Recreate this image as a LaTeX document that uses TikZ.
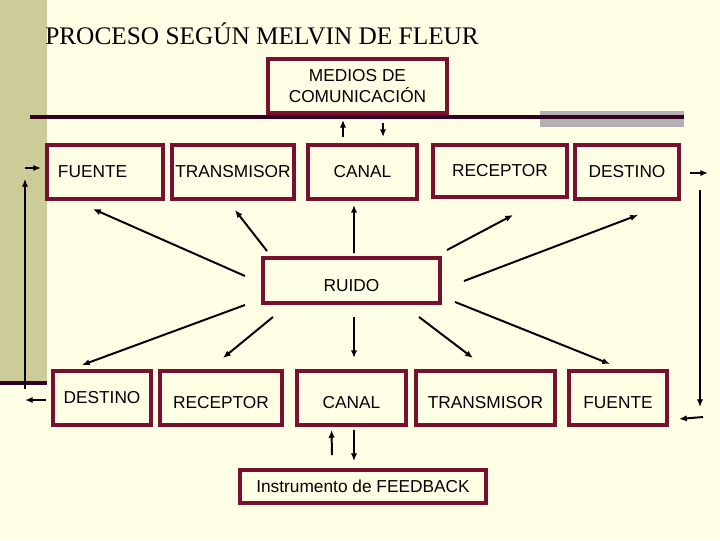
\documentclass[tikz,border=0pt]{standalone}
\usepackage{fontspec}
\setmainfont{Liberation Sans}
\newfontfamily\titulofont{Liberation Serif}
\usepackage{xcolor}
\usepackage{tikz}
\usetikzlibrary{calc, positioning, arrows.meta}

\definecolor{fondo}{RGB}{255,255,230}
\definecolor{oliva}{RGB}{204,204,153}
\definecolor{granate}{RGB}{122,16,48}
\definecolor{morado}{RGB}{51,0,34}
\definecolor{gris}{RGB}{178,178,178}

\begin{document}
\begin{tikzpicture}[>={Latex[length=5.5pt, width=4.5pt]}, x=0.025cm, y=-0.025cm,
    caja/.style={draw=granate, line width=2.8pt, fill=fondo, inner sep=0pt,
        font=\fontsize{12.3}{15}\selectfont, align=center},
    abajo/.style={text height=15.6pt, text depth=0pt},
    flecha/.style={->, line width=1.4pt}]
    % Nền
    \useasboundingbox (0,0) rectangle (720,540);
    \fill[fondo] (0,0) rectangle (720,540);
    \fill[oliva] (0,0) rectangle (47,383);
    \draw[morado, line width=2.4pt] (0,383) -- (47,383);
    \fill[gris] (540,111) rectangle (684,127);
    \draw[morado, line width=2.2pt] (30,117) -- (684,117);

    % Tiêu đề
    \node[anchor=base west, inner sep=0pt, font=\titulofont\fontsize{18}{20}\selectfont] (titulo) at (45,44)
        {PROCESO SEGÚN MELVIN DE FLEUR};

    % Hàng trên
    \node[caja, minimum width=4.475cm, minimum height=1.35cm] (medios) at (357.5,86) {MEDIOS DE\\COMUNICACIÓN};
    \node[caja, minimum width=2.9cm, minimum height=1.35cm, text width=2.35cm, inner xsep=7.8pt, align=left] (fuenteA) at (105,172) {FUENTE};
    \node[caja, minimum width=3.05cm, minimum height=1.35cm] (transA) at (233,172) {TRANSMISOR};
    \node[caja, minimum width=2.725cm, minimum height=1.35cm] (canalA) at (362.5,172) {CANAL};
    \node[caja, minimum width=3.35cm, minimum height=1.3cm] (receptorA) at (500,171) {RECEPTOR};
    \node[caja, minimum width=2.6cm, minimum height=1.35cm] (destinoA) at (627,172) {DESTINO};

    % Ruido
    \node[caja, text height=15pt, text depth=0pt, minimum width=4.425cm, minimum height=1.125cm] (ruido) at (351.5,280.5) {RUIDO};

    % Hàng dưới
    \node[caja, minimum width=2.45cm, minimum height=1.35cm] (destinoB) at (102,398) {DESTINO};
    \node[caja, abajo, minimum width=3.05cm, minimum height=1.35cm] (receptorB) at (221,398) {RECEPTOR};
    \node[caja, abajo, minimum width=2.725cm, minimum height=1.35cm] (canalB) at (351.5,398) {CANAL};
    \node[caja, abajo, minimum width=3.475cm, minimum height=1.35cm] (transB) at (485.5,398) {TRANSMISOR};
    \node[caja, abajo, minimum width=2.45cm, minimum height=1.35cm] (fuenteB) at (618,398) {FUENTE};
    \node[caja, minimum width=6.15cm, minimum height=0.825cm] (feedback) at (363,486.5) {Instrumento de FEEDBACK};

    % Medios <-> canal
    \draw[flecha] ($(canalA.north)+(-19.5,-6)$) -- ($(medios.south)+(-14.5,5)$);
    \draw[flecha] ($(medios.south)+(25.5,8)$) -- ($(canalA.north)+(20.5,-6)$);

    % Ruido -> hàng trên
    \draw[flecha] ($(ruido.west)+(-16,-4.5)$) -- ($(fuenteA.south)+(-12,8)$);
    \draw[flecha] ($(ruido.north west)+(6,-5)$) -- ($(transA.south)+(2,9)$);
    \draw[flecha] ($(ruido.north)+(2.5,-3)$) -- ($(canalA.south)+(-8.5,4)$);
    \draw[flecha] ($(ruido.north east)+(5,-6)$) -- ($(receptorA.south)+(13,16)$);
    \draw[flecha] ($(ruido.east)+(22,0.5)$) -- ($(destinoA.south)+(11,14)$);

    % Ruido -> hàng dưới
    \draw[flecha] ($(ruido.south west)+(-16,0)$) -- ($(destinoB.north)+(-20,-4)$);
    \draw[flecha] ($(ruido.south west)+(12,12)$) -- ($(receptorB.north)+(2,-11)$);
    \draw[flecha] ($(ruido.south)+(2.5,12)$) -- ($(canalB.north)+(2.5,-11)$);
    \draw[flecha] ($(ruido.south east)+(-23,12)$) -- ($(transB.north)+(-12.5,-11)$);
    \draw[flecha] ($(ruido.south east)+(13,-3)$) -- ($(fuenteB.north)+(-8,-5)$);

    % Canal <-> feedback
    \draw[flecha] ($(feedback.north)+(-31,-13)$) -- ($(canalB.south)+(-20,3)$);
    \draw[flecha] ($(canalB.south)+(2.5,3)$) -- ($(feedback.north)+(-9,-7)$);

    % Vòng trái
    \coordinate (izqA) at (25,168);
    \coordinate (izqB) at (25,179);
    \coordinate (izqC) at (25,389);
    \coordinate (izqD) at (25,400);
    \draw[flecha] ($(destinoB.west)+(-5,2)$) -- (izqD);
    \draw[->, line width=0.9pt] (izqC) -- (izqB);
    \draw[flecha] (izqA) -- ($(fuenteA.west)+(-4,-4)$);

    % Vòng phải
    \coordinate (derA) at (708,173);
    \coordinate (derB) at (700,190);
    \coordinate (derC) at (700,407);
    \coordinate (derD) at (703,417);
    \draw[flecha] ($(destinoA.east)+(9,1)$) -- (derA);
    \draw[->, line width=0.9pt] (derB) -- (derC);
    \draw[flecha] (derD) -- ($(fuenteB.south east)+(10,-8)$);
\end{tikzpicture}
\end{document}
